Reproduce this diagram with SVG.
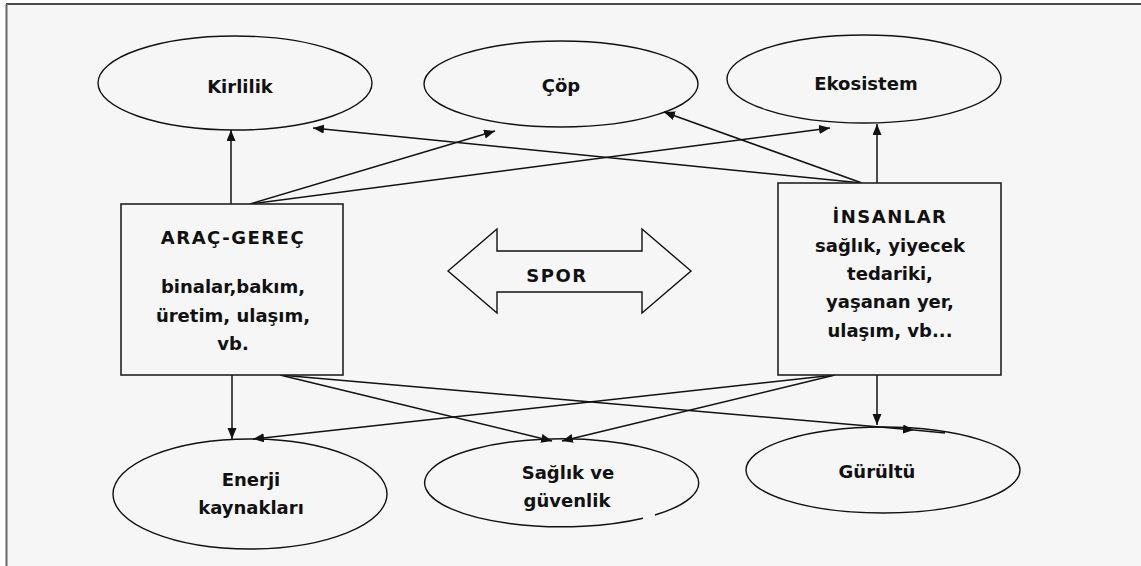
<svg xmlns="http://www.w3.org/2000/svg" width="1141" height="566" viewBox="0 0 1141 566">
<style>
.bg{fill:#f6f6f6}
.shape{fill:none;stroke:#111;stroke-width:1.4}
.box{fill:#f6f6f6;stroke:#222;stroke-width:1.6}
.con{fill:none;stroke:#111;stroke-width:1.5}
.t{font-family:"DejaVu Sans","Liberation Sans",sans-serif;font-weight:bold;font-size:18px;fill:#111;text-anchor:middle}
.cap{letter-spacing:1.5px}
</style>
<defs>
<marker id="ah" markerUnits="userSpaceOnUse" markerWidth="12" markerHeight="10" refX="11" refY="4.5" orient="auto">
<path d="M0,0 L11,4.5 L0,9 z" fill="#111"/>
</marker>
</defs>
<rect x="0" y="0" width="1141" height="566" fill="#ffffff"/>
<rect class="bg" x="7" y="4" width="1134" height="562"/>
<line x1="6" y1="4" x2="1141" y2="4" stroke="#111" stroke-width="1.6"/>
<line x1="6.5" y1="4" x2="6.5" y2="566" stroke="#666" stroke-width="2"/>

<g id="connectors">
<line class="con" x1="231" y1="204" x2="231" y2="130" marker-end="url(#ah)"/>
<line class="con" x1="250" y1="204" x2="495" y2="131" marker-end="url(#ah)"/>
<line class="con" x1="250" y1="204" x2="830" y2="128" marker-end="url(#ah)"/>
<line class="con" x1="862" y1="183" x2="313" y2="128" marker-end="url(#ah)"/>
<line class="con" x1="862" y1="183" x2="664" y2="112" marker-end="url(#ah)"/>
<line class="con" x1="877" y1="183" x2="877" y2="124" marker-end="url(#ah)"/>
<line class="con" x1="232" y1="375" x2="232" y2="439" marker-end="url(#ah)"/>
<line class="con" x1="280" y1="375" x2="552" y2="441" marker-end="url(#ah)"/>
<line class="con" x1="280" y1="375" x2="914" y2="430" marker-end="url(#ah)"/>
<line class="con" x1="914" y1="430" x2="945" y2="433"/>
<line class="con" x1="835" y1="375" x2="253" y2="439" marker-end="url(#ah)"/>
<line class="con" x1="835" y1="375" x2="562" y2="441" marker-end="url(#ah)"/>
<line class="con" x1="877" y1="375" x2="877" y2="425" marker-end="url(#ah)"/>
</g>

<g id="kirlilik">
<ellipse class="shape" cx="235" cy="83" rx="137" ry="47"/>
<text class="t" x="240" y="93">Kirlilik</text>
</g>
<g id="cop">
<ellipse class="shape" cx="561" cy="84" rx="137" ry="43"/>
<text class="t" x="561" y="92">Çöp</text>
</g>
<g id="ekosistem">
<ellipse class="shape" cx="864" cy="79" rx="137" ry="44"/>
<text class="t" x="866" y="90">Ekosistem</text>
</g>

<g id="arac-gerec">
<rect class="box" x="121" y="204" width="222" height="171"/>
<text class="t cap" x="233" y="244">ARAÇ-GEREÇ</text>
<text class="t" x="233" y="293">binalar,bakım,</text>
<text class="t" x="233" y="322">üretim, ulaşım,</text>
<text class="t" x="233" y="350">vb.</text>
</g>

<g id="insanlar">
<rect class="box" x="778" y="183" width="223" height="192"/>
<text class="t cap" x="890" y="223">İNSANLAR</text>
<text class="t" x="890" y="252">sağlık, yiyecek</text>
<text class="t" x="890" y="280">tedariki,</text>
<text class="t" x="890" y="308">yaşanan yer,</text>
<text class="t" x="890" y="337">ulaşım, vb...</text>
</g>

<g id="spor">
<polygon class="shape" points="448,271 497,229 497,251 642,251 642,229 691,271 642,313 642,292 497,292 497,313"/>
<text class="t cap" x="557" y="282">SPOR</text>
</g>

<g id="enerji">
<ellipse class="shape" cx="250" cy="494" rx="137" ry="55"/>
<text class="t" x="251" y="486">Enerji</text>
<text class="t" x="251" y="514">kaynakları</text>
</g>
<g id="saglik">
<path class="shape" d="M655,515 A137,44 0 1 0 643,518.2"/>
<text class="t" x="568" y="479">Sağlık ve</text>
<text class="t" x="567" y="507">güvenlik</text>
</g>
<g id="gurultu">
<ellipse class="shape" cx="883" cy="470" rx="137" ry="43"/>
<text class="t" x="877" y="478">Gürültü</text>
</g>
</svg>
